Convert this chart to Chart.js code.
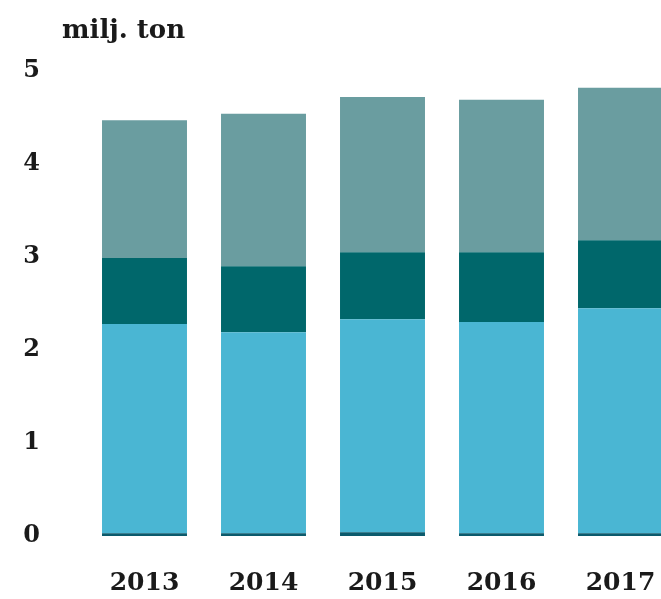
<!DOCTYPE html>
<html><head><meta charset="utf-8">
<script src="https://cdn.jsdelivr.net/npm/chart.js@4"></script>
<style>
html,body{margin:0;padding:0;background:#fff;overflow:hidden;width:661px;height:599px;}
#wrap{position:relative;width:661px;height:599px;overflow:hidden;}
#unit{position:absolute;left:62px;top:14px;font-family:"DejaVu Serif",serif;font-weight:bold;font-size:26px;color:#1a1a1a;}
canvas{position:absolute;left:0;top:0;}
</style></head><body>
<div id="wrap"><canvas id="c" width="680" height="599" style="width:680px;height:599px"></canvas><div id="unit">milj. ton</div></div>
<script>
const years = ["2013","2014","2015","2016","2017"];
const seriesBase = [0.03, 0.03, 0.04, 0.03, 0.03];
const seriesLight = [2.25, 2.16, 2.29, 2.27, 2.42];
const seriesDark = [0.71, 0.71, 0.72, 0.75, 0.73];
const seriesGrey = [1.48, 1.64, 1.67, 1.64, 1.64];
const yTicks = [0,1,2,3,4,5];

const font = {family:"DejaVu Serif", weight:"bold", size:24};
new Chart(document.getElementById('c'), {
  type:'bar',
  data:{labels:years, datasets:[
    {data:seriesBase, backgroundColor:'#0b5a6c'},
    {data:seriesLight, backgroundColor:'#4ab6d3'},
    {data:seriesDark, backgroundColor:'#00676b'},
    {data:seriesGrey, backgroundColor:'#6a9da0'}
  ].map(d=>Object.assign(d,{barPercentage:0.714, categoryPercentage:1, borderWidth:0}))},
  options:{
    responsive:false, devicePixelRatio:1, animation:false,
    layout:{padding:{left:18, top:71, right:0, bottom:0}},
    plugins:{legend:{display:false}, tooltip:{enabled:false}, title:{display:false}},
    scales:{
      x:{stacked:true, grid:{display:false, drawTicks:false}, border:{display:false},
         ticks:{font:{...font,size:25}, color:'#1a1a1a', padding:32},
         afterFit:s=>{s.height=63; s.paddingLeft=0; s.paddingRight=0;}},
      y:{stacked:true, min:0, max:5, grid:{display:false, drawTicks:false}, border:{display:false},
         afterBuildTicks:s=>{s.ticks=yTicks.map(v=>({value:v}));},
         ticks:{font:font, color:'#1a1a1a', padding:45},
         afterFit:s=>{s.width=67; s.paddingTop=0; s.paddingBottom=0;}}
    }
  }
});
</script></body></html>
